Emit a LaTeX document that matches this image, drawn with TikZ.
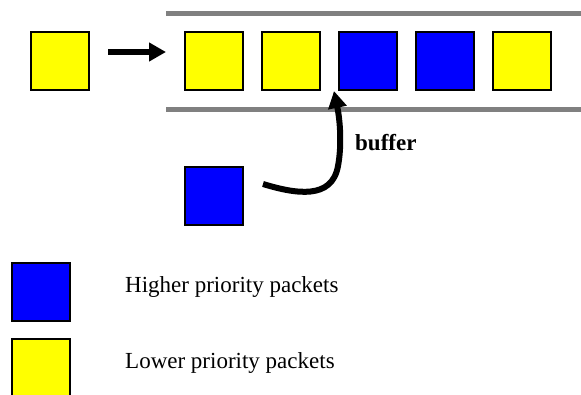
\documentclass[tikz,border=0pt]{standalone}
\usepackage{fontspec}
\setmainfont{Liberation Serif}
\usetikzlibrary{arrows.meta}
\definecolor{pktblue}{RGB}{0,0,255}
\definecolor{pktyellow}{RGB}{255,255,0}
\definecolor{rail}{RGB}{128,128,128}
\tikzset{
  packet/.style={draw=black, line width=1.3pt, minimum size=58pt, inner sep=0pt, outer sep=0pt},
  hipkt/.style={packet, fill=pktblue},
  lopkt/.style={packet, fill=pktyellow},
  railline/.style={draw=rail, line width=5pt},
  flow/.style={line width=6.5pt, -{Triangle[length=17pt, width=18pt]}},
  legendtext/.style={anchor=base west, inner sep=0pt, font=\fontsize{23}{28}\selectfont},
}
\begin{document}
\begin{tikzpicture}[x=1pt, y=-1pt]
  \clip (0,0) rectangle (581,394);
  \useasboundingbox (0,0) rectangle (581,394);

  % buffer rails
  \draw[railline] (166,13.5) -- (581,13.5);
  \draw[railline] (166,109.5) -- (581,109.5);

  % arriving packet
  \node[lopkt] (inpkt) at (60,61) {};

  % packets queued in the buffer
  \node[lopkt] (q1) at (214,61) {};
  \node[lopkt] (q2) at (291,61) {};
  \node[hipkt] (q3) at (368,61) {};
  \node[hipkt] (q4) at (445,61) {};
  \node[lopkt] (q5) at (522,61) {};

  % high-priority packet jumping the queue
  \node[hipkt] (jump) at (214,196) {};

  % arrival arrow
  \coordinate (arrA) at (108,52);
  \coordinate (arrB) at (166,52);
  \draw[flow] (arrA) -- (arrB);

  % insertion arrow
  \coordinate (insA) at (263,184);
  \coordinate (insB) at (334,91);
  \draw[flow, line width=6pt] (insA) .. controls (296,194) and (332,200) .. (338,166)
      .. controls (342,145) and (340,120) .. (insB);

  \node[legendtext, font=\fontsize{23}{28}\selectfont\bfseries] (buf) at (355,150) {buffer};

  % legend
  \node[hipkt] (keyhi) at (41,292) {};
  \node[lopkt] (keylo) at (41,368) {};
  \node[legendtext] (txthi) at (125,292) {Higher priority packets};
  \node[legendtext] (txtlo) at (125,368) {Lower priority packets};
\end{tikzpicture}
\end{document}
